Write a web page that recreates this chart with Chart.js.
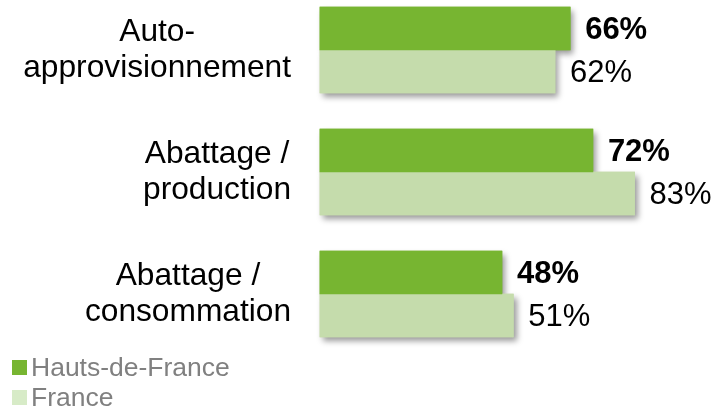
<!DOCTYPE html>
<html>
<head>
<meta charset="utf-8">
<script src="https://cdn.jsdelivr.net/npm/chart.js@4"></script>
<style>
  html, body { margin: 0; padding: 0; background: #fff; }
  #wrap { position: relative; width: 717px; height: 410px; }
  #legend { position: absolute; left: 12px; top: 352px; font-family: "Liberation Sans", Arial, sans-serif; font-size: 26.5px; color: #808080; }
  .leg-row { display: flex; align-items: center; height: 30px; }
  .leg-box { width: 15px; height: 15px; margin-right: 4px; }
</style>
</head>
<body>
<div id="wrap">
  <canvas id="chart" width="717" height="410"></canvas>
  <div id="legend"></div>
</div>
<script>
const categories = [
  ['Auto-', 'approvisionnement'],
  ['Abattage /', 'production'],
  ['Abattage /', 'consommation'],
];
const seriesNames = ['Hauts-de-France', 'France'];
const hautsDeFrance = [66, 72, 48];
const france = [62, 83, 51];

const COLORS = ['#77b531', '#c5dcac'];
const LEGEND_COLORS = ['#77b531', '#d7ebc7'];
const FONT = '"Liberation Sans", Arial, sans-serif';

// ---------- Plugins ----------

// draw every bar once with a soft drop shadow underneath the normal pass
const shadowPlugin = {
  id: 'barShadow',
  beforeDatasetsDraw(chart) {
    const ctx = chart.ctx;
    ctx.save();
    ctx.shadowColor = 'rgba(0,0,0,0.4)';
    ctx.shadowBlur = 6;
    ctx.shadowOffsetX = 3;
    ctx.shadowOffsetY = 4;
    [0, 1].forEach(i => {
      chart.getDatasetMeta(i).data.forEach(el => el.draw(ctx));
    });
    ctx.restore();
  },
};

// category labels: each block right-edged, lines centred within the block
const categoryLabels = {
  id: 'categoryLabels',
  afterDraw(chart) {
    const ctx = chart.ctx;
    const yScale = chart.scales.y;
    const right = 291;
    const lineH = 36;
    ctx.save();
    ctx.font = `31.7px ${FONT}`;
    ctx.fillStyle = '#000';
    ctx.textAlign = 'center';
    ctx.textBaseline = 'middle';
    categories.forEach((lines, i) => {
      const cy = yScale.getPixelForTick(i);
      const w = Math.max(...lines.map(l => ctx.measureText(l).width));
      const cx = right - w / 2;
      lines.forEach((l, j) => {
        ctx.fillText(l, cx, cy + (j - (lines.length - 1) / 2) * lineH);
      });
    });
    ctx.restore();
  },
};

const valueLabels = {
  id: 'valueLabels',
  afterDatasetsDraw(chart) {
    const ctx = chart.ctx;
    ctx.save();
    ctx.fillStyle = '#000';
    ctx.textAlign = 'left';
    ctx.textBaseline = 'middle';
    chart.data.datasets.forEach((ds, i) => {
      ctx.font = `${i === 0 ? 'bold ' : ''}31px ${FONT}`;
      chart.getDatasetMeta(i).data.forEach((bar, j) => {
        ctx.fillText(ds.data[j] + '%', bar.x + 15, bar.y + 2);
      });
    });
    ctx.restore();
  },
};

// ---------- Chart ----------

new Chart(document.getElementById('chart'), {
  type: 'bar',
  data: {
    labels: categories,
    datasets: [
      { label: seriesNames[0], data: hautsDeFrance, backgroundColor: COLORS[0], clip: false },
      { label: seriesNames[1], data: france, backgroundColor: COLORS[1], clip: false },
    ],
  },
  options: {
    indexAxis: 'y',
    responsive: false,
    animation: false,
    layout: { padding: { left: 320, right: 18, top: 50, bottom: 116 } },
    datasets: { bar: { barThickness: 43, borderWidth: 0 } },
    plugins: {
      legend: { display: false },
      tooltip: { enabled: false },
    },
    scales: {
      x: { display: false, min: 0, max: 100 },
      y: { display: false, offset: false },
    },
  },
  plugins: [shadowPlugin, valueLabels, categoryLabels],
});

// ---------- Legend ----------

const legendEl = document.getElementById('legend');
seriesNames.forEach((name, i) => {
  const row = document.createElement('div');
  row.className = 'leg-row';
  const box = document.createElement('span');
  box.className = 'leg-box';
  box.style.background = LEGEND_COLORS[i];
  const txt = document.createElement('span');
  txt.textContent = name;
  row.append(box, txt);
  legendEl.appendChild(row);
});
</script>
</body>
</html>
